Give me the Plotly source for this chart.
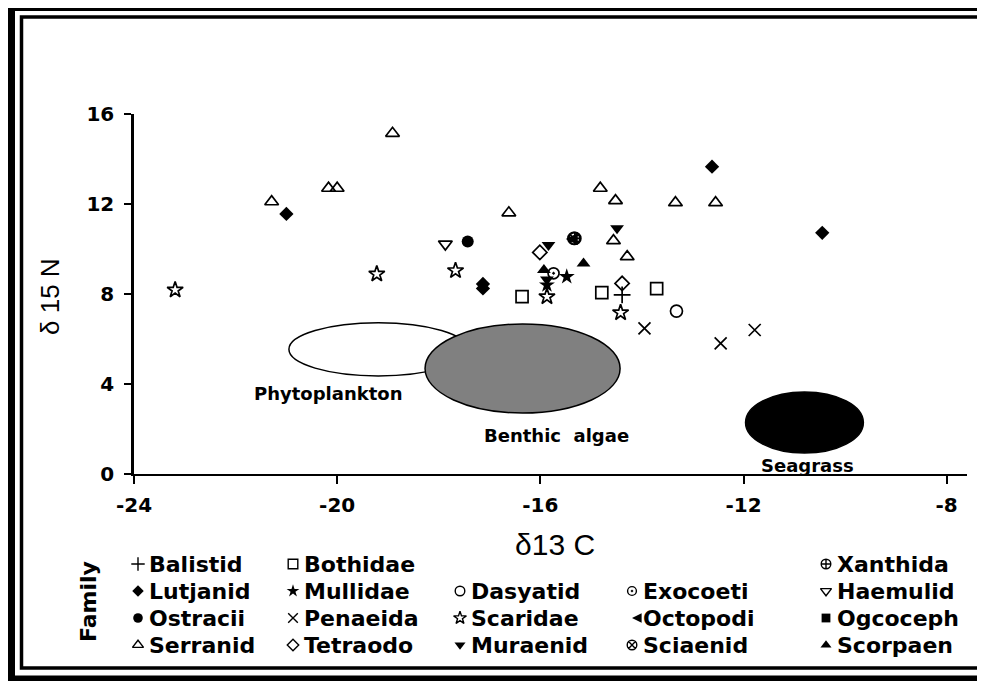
import plotly.graph_objects as go

# ---------------- data ----------------
families = ["Balistid", "Bothidae", "Xanthida", "Lutjanid", "Mullidae", "Dasyatid",
            "Exocoeti", "Haemulid", "Ostracii", "Penaeida", "Scaridae", "Octopodi",
            "Ogcoceph", "Serranid", "Tetraodo", "Muraenid", "Sciaenid", "Scorpaen"]

balistid_x = [-14.39]
balistid_y = [7.96]
bothidae_x = [-16.36, -14.79, -13.71]
bothidae_y = [7.88, 8.06, 8.24]
xanthida_x = [-15.32]
xanthida_y = [10.47]
lutjanid_x = [-21.0, -17.13, -17.13, -12.62, -10.45]
lutjanid_y = [11.56, 8.45, 8.25, 13.66, 10.72]
mullidae_x = [-15.87, -15.48]
mullidae_y = [8.40, 8.77]
dasyatid_x = [-13.32]
dasyatid_y = [7.24]
exocoeti_x = [-15.74]
exocoeti_y = [8.92]
haemulid_x = [-17.87]
haemulid_y = [10.22]
ostracii_x = [-17.43]
ostracii_y = [10.33]
penaeida_x = [-13.95, -12.45, -11.78]
penaeida_y = [6.47, 5.81, 6.40]
scaridae_x = [-23.19, -19.22, -17.67, -15.87, -14.42]
scaridae_y = [8.18, 8.89, 9.04, 7.88, 7.17]
octopodi_x = [-15.50]
octopodi_y = [10.45]
ogcoceph_x = []
ogcoceph_y = []
serranid_x = [-21.29, -20.17, -20.0, -18.91, -16.62, -14.82, -14.52, -13.34, -12.55, -14.56, -14.29]
serranid_y = [12.10, 12.70, 12.70, 15.14, 11.61, 12.70, 12.15, 12.06, 12.06, 10.37, 9.66]
tetraodo_x = [-16.01, -14.39]
tetraodo_y = [9.85, 8.47]
muraenid_x = [-15.84, -14.49, -15.87]
muraenid_y = [10.18, 10.92, 8.65]
sciaenid_x = [-15.34]
sciaenid_y = [10.47]
scorpaen_x = [-15.93, -15.15]
scorpaen_y = [9.07, 9.36]

# source ellipses (centre, half-widths)
source_names = ["Phytoplankton", "Benthic  algae", "Seagrass"]
source_cx = [-19.19, -16.35, -10.80]
source_cy = [5.54, 4.69, 2.29]
source_rx = [1.76, 1.92, 1.16]
source_ry = [1.18, 1.98, 1.36]
source_label_x = [-20.18, -15.68, -10.74]
source_label_y = [3.60, 1.73, 0.36]

x_ticks = [-24, -20, -16, -12, -8]
y_ticks = [0, 4, 8, 12, 16]

# ---------------- styles ----------------
series = {
    "Balistid": (balistid_x, balistid_y, "cross-thin", 12),
    "Bothidae": (bothidae_x, bothidae_y, "square-open", 12),
    "Xanthida": (xanthida_x, xanthida_y, "circle-cross-open", 12),
    "Lutjanid": (lutjanid_x, lutjanid_y, "diamond", 11),
    "Mullidae": (mullidae_x, mullidae_y, "star", 12),
    "Dasyatid": (dasyatid_x, dasyatid_y, "circle-open", 12),
    "Exocoeti": (exocoeti_x, exocoeti_y, "circle-open-dot", 11),
    "Haemulid": (haemulid_x, haemulid_y, "triangle-down-open", 12),
    "Ostracii": (ostracii_x, ostracii_y, "circle", 12),
    "Penaeida": (penaeida_x, penaeida_y, "x-thin", 12),
    "Scaridae": (scaridae_x, scaridae_y, "star-open", 12),
    "Octopodi": (octopodi_x, octopodi_y, "arrow-left", 12),
    "Ogcoceph": (ogcoceph_x, ogcoceph_y, "square", 11),
    "Serranid": (serranid_x, serranid_y, "triangle-up-open", 12),
    "Tetraodo": (tetraodo_x, tetraodo_y, "diamond-open", 11),
    "Muraenid": (muraenid_x, muraenid_y, "triangle-down", 12),
    "Sciaenid": (sciaenid_x, sciaenid_y, "circle-x-open", 12),
    "Scorpaen": (scorpaen_x, scorpaen_y, "triangle-up", 12),
}

# legend grid (row-major, None = empty slot)
legend_order = ["Balistid", "Bothidae", None, None, "Xanthida",
                "Lutjanid", "Mullidae", "Dasyatid", "Exocoeti", "Haemulid",
                "Ostracii", "Penaeida", "Scaridae", "Octopodi", "Ogcoceph",
                "Serranid", "Tetraodo", "Muraenid", "Sciaenid", "Scorpaen"]
legend_col_px = [138, 293, 460, 632, 826]
legend_row_px = [564, 591, 618, 645]

# page offset (body margin) and figure size
OFF = 8
W, H = 985 - OFF, 681 - OFF


def pxx(px):
    return (px - OFF) / W


def pxy(py):
    return 1 - (py - OFF) / H


AX_L, AX_R, AX_T, AX_B = 134, 967, 114, 474

fig = go.Figure()

for name in families:
    xs, ys, sym, size = series[name]
    is_open = "open" in sym or "thin" in sym
    fig.add_trace(go.Scatter(
        x=xs, y=ys, mode="markers", name=name, showlegend=False,
        marker=dict(symbol=sym, size=size, color="black",
                    line=dict(color="black", width=1.7 if is_open else 0)),
        cliponaxis=False,
    ))

# legend markers on a full-figure pixel axis
annotations = []
for i, name in enumerate(legend_order):
    if name is None:
        continue
    r, c = divmod(i, 5)
    _, _, sym, size = series[name]
    is_open = "open" in sym or "thin" in sym
    fig.add_trace(go.Scatter(
        x=[legend_col_px[c] - OFF], y=[legend_row_px[r] - OFF], xaxis="x2", yaxis="y2",
        mode="markers", showlegend=False, hoverinfo="skip", cliponaxis=False,
        marker=dict(symbol=sym, size=size * 0.8, color="black",
                    line=dict(color="black", width=1.4 if is_open else 0)),
    ))
    annotations.append(dict(
        x=pxx(legend_col_px[c] + 9), y=pxy(legend_row_px[r]), xref="paper", yref="paper",
        text=name, showarrow=False, xanchor="left", yanchor="middle",
        font=dict(family="DejaVu Sans", size=22, color="black", weight="bold"),
    ))

shapes = []
for i, nm in enumerate(source_names):
    fill = ["white", "#808080", "black"][i]
    shapes.append(dict(
        type="circle", xref="x", yref="y", layer="below",
        x0=source_cx[i] - source_rx[i], x1=source_cx[i] + source_rx[i],
        y0=source_cy[i] - source_ry[i], y1=source_cy[i] + source_ry[i],
        fillcolor=fill, line=dict(color="black", width=1.5),
    ))
    annotations.append(dict(
        x=source_label_x[i], y=source_label_y[i], xref="x", yref="y",
        text=nm, showarrow=False, xanchor="center", yanchor="middle",
        font=dict(family="DejaVu Sans", size=18, color="black", weight="bold"),
    ))

# frame lines
shapes.append(dict(type="rect", xref="paper", yref="paper",
                   x0=pxx(11.5), x1=pxx(1010), y0=pxy(7.5), y1=pxy(679),
                   line=dict(color="black", width=7), fillcolor="rgba(0,0,0,0)", layer="above"))
shapes.append(dict(type="rect", xref="paper", yref="paper",
                   x0=pxx(21.5), x1=pxx(1000), y0=pxy(17), y1=pxy(668),
                   line=dict(color="black", width=3.5), fillcolor="rgba(0,0,0,0)", layer="above"))

# axis titles and legend title
annotations.append(dict(x=pxx(555), y=pxy(544), xref="paper", yref="paper", text="δ13 C",
                        showarrow=False, xanchor="center", yanchor="middle",
                        font=dict(family="Liberation Sans Narrow, Liberation Sans", size=30, color="black")))
annotations.append(dict(x=pxx(50), y=pxy(297), xref="paper", yref="paper", text="δ 15 N",
                        showarrow=False, xanchor="center", yanchor="middle", textangle=-90,
                        font=dict(family="Liberation Sans", size=26, color="black")))
annotations.append(dict(x=pxx(88), y=pxy(602), xref="paper", yref="paper", text="Family",
                        showarrow=False, xanchor="center", yanchor="middle", textangle=-90,
                        font=dict(family="DejaVu Sans", size=22, color="black", weight="bold")))

tickfont = dict(family="DejaVu Sans", size=20, color="black", weight="bold")

fig.update_layout(
    width=W, height=H, autosize=False,
    margin=dict(l=0, r=0, t=0, b=0, pad=0, autoexpand=False),
    paper_bgcolor="white", plot_bgcolor="rgba(0,0,0,0)",
    showlegend=False,
    xaxis=dict(domain=[pxx(AX_L), pxx(AX_R)], anchor="y", automargin=False,
               range=[-24, -7.6], tickvals=x_ticks, ticktext=[str(v) for v in x_ticks],
               showgrid=False, zeroline=False, showline=True, linecolor="black", linewidth=2,
               ticks="outside", ticklen=8, tickwidth=2, tickcolor="black",
               tickfont=tickfont, ticklabelstandoff=4),
    yaxis=dict(domain=[pxy(AX_B), pxy(AX_T)], anchor="x", automargin=False,
               range=[0, 16], tickvals=y_ticks, ticktext=[str(v) for v in y_ticks],
               showgrid=False, zeroline=False, showline=True, linecolor="black", linewidth=2.5,
               ticks="outside", ticklen=7, tickwidth=2, tickcolor="black",
               tickfont=tickfont, ticklabelstandoff=6),
    xaxis2=dict(domain=[0, 1], range=[0, W], anchor="y2", visible=False, showgrid=False,
                automargin=False, fixedrange=True),
    yaxis2=dict(domain=[0, 1], range=[H, 0], anchor="x2", visible=False, showgrid=False,
                automargin=False, fixedrange=True),
    shapes=shapes,
    annotations=annotations,
)

fig.write_html("out.html")
